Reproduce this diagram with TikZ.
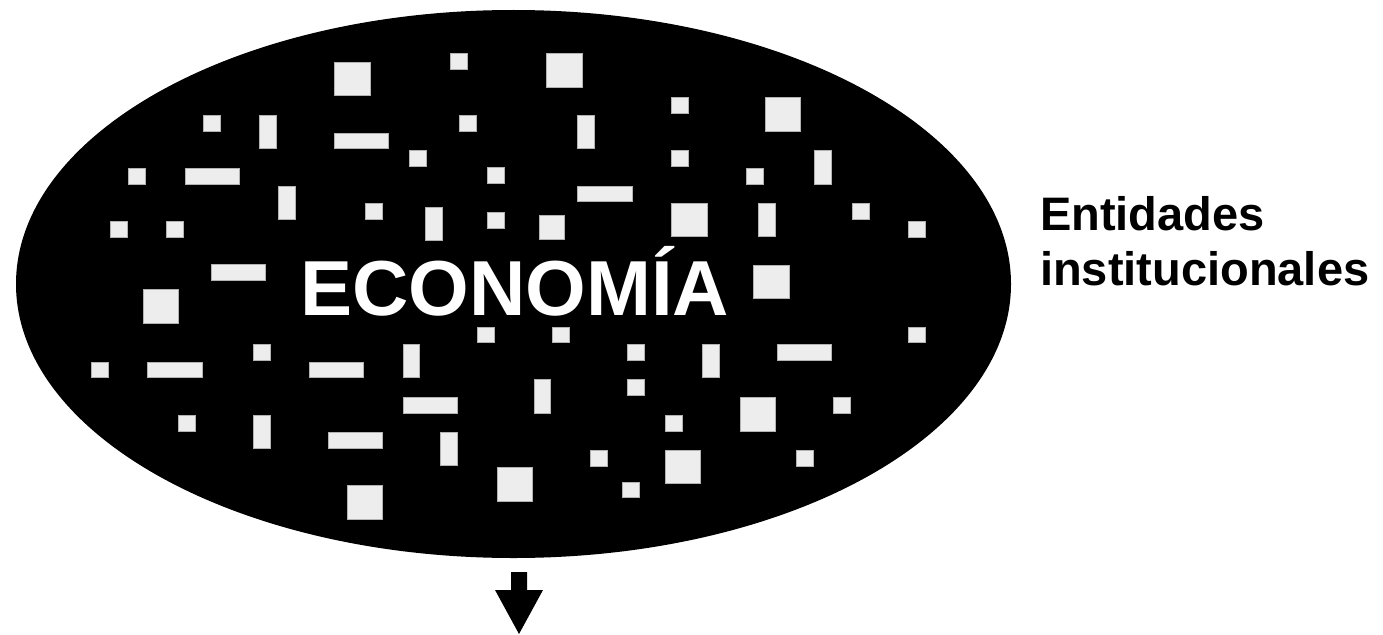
\documentclass[tikz,border=0pt]{standalone}
\usepackage{fontspec}
\usetikzlibrary{shapes.geometric}
\setmainfont{Liberation Sans}
\begin{document}
\begin{tikzpicture}[x=1pt,y=-1pt,
  tile/.style={fill=black!7,draw=black!30,line width=0.6pt},
  bigtext/.style={text=white,font=\bfseries\fontsize{78}{90}\selectfont,inner sep=0pt,anchor=base west},
  sidetext/.style={text=black,font=\bfseries\fontsize{47}{55}\selectfont,inner sep=0pt,anchor=base west}]
\useasboundingbox (0,0) rectangle (1383,634);
% ellipse
\node[ellipse,fill=black,minimum width=995pt,minimum height=548pt,inner sep=0pt] (econ) at (513.5,284) {};
% tiles
\foreach \xa/\ya/\xb/\yb in {
334/62/370/95, 450/53/467/69, 203/115/220/131, 259/115/276/148,
334/133/388/148, 459/115/476/131, 409/150/426/166, 128/168/145/184,
185/168/239/184, 278/186/295/219, 365/203/382/219, 425/207/442/240,
110/221/127/237, 166/221/183/237, 211/264/265/280, 143/289/178/323,
546/53/582/87, 577/115/594/148, 671/97/688/113, 765/97/800/131,
487/167/504/183, 577/186/632/201, 671/150/688/166, 746/168/763/184,
814/150/831/184, 487/212/504/228, 539/215/564/239, 671/203/707/236,
758/203/775/236, 852/203/869/219, 908/221/925/237, 753/265/789/298,
477/327/494/342, 552/327/569/342, 908/327/925/342, 253/344/270/360,
91/362/108/377, 147/362/202/377, 309/362/363/377, 403/344/419/377,
403/397/457/413, 178/415/195/431, 253/415/270/448, 328/432/382/448,
440/432/457/465, 347/485/382/519, 627/344/644/360, 702/344/719/377,
777/344/831/360, 534/379/550/413, 627/379/644/395, 665/415/682/431,
740/397/775/431, 833/397/850/413, 590/450/607/466, 665/450/700/483,
796/450/813/466, 497/467/532/501, 622/482/639/497}
  \draw[tile] (\xa,\ya) rectangle (\xb,\yb);
% texts
\node[bigtext] (eco) at (300,315) {ECONOMÍA};
\node[sidetext] (ent1) at (1040,230) {Entidades};
\node[sidetext] (ent2) at (1040,285) {institucionales};
% arrow
\coordinate (tip) at (519,634);
\fill[black] (511,572) -- (527,572) -- (527,590) -- (543,590) -- (tip) -- (495,590) -- (511,590) -- cycle;
\end{tikzpicture}
\end{document}
